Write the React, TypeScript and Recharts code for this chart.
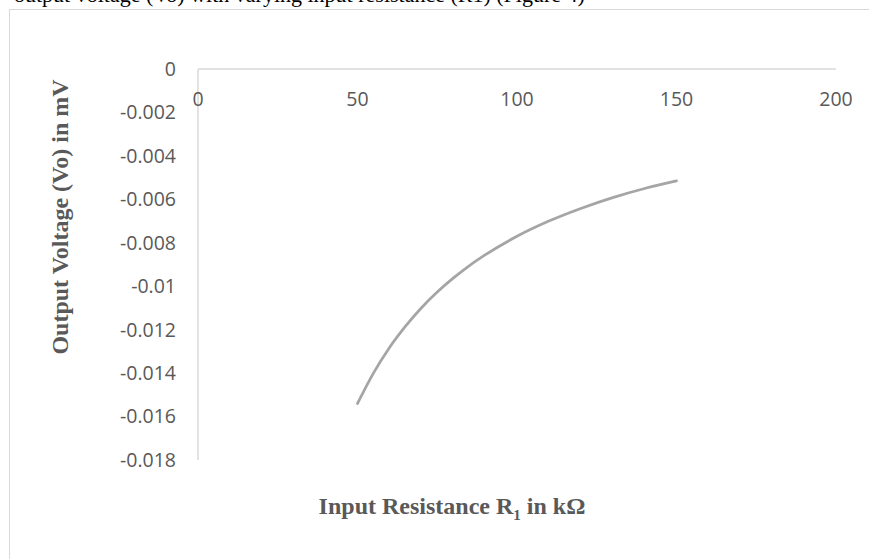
import { LineChart, Line, XAxis, YAxis } from "recharts";

const R_VALUES = [50, 55, 60, 65, 70, 75, 80, 85, 90, 100, 110, 120, 130, 140, 150];
const VO_VALUES = [-0.0154, -0.014, -0.01283, -0.01185, -0.011, -0.01027, -0.00963, -0.00906, -0.00856, -0.0077, -0.007, -0.00642, -0.00592, -0.0055, -0.00515];
const X_TICKS = [0, 50, 100, 150, 200];
const Y_TICKS = [0, -0.002, -0.004, -0.006, -0.008, -0.01, -0.012, -0.014, -0.016, -0.018];

const data = R_VALUES.map((r, i) => ({ r, vo: VO_VALUES[i] }));

const tickFont = { fontFamily: "'Open Sans', sans-serif", fontSize: 19.5, fill: "#595959" };
const titleFont = "'Liberation Serif', 'Times New Roman', serif";

// x labels sit under the axis line even though the axis is drawn at the top
function XTick(props: any) {
  return (
    <text x={props.x} y={106} textAnchor="middle" {...tickFont}>
      {props.payload.value}
    </text>
  );
}

export default function App() {
  return (
    <div style={{ position: "absolute", left: 0, top: 0, width: 869, height: 559, overflow: "hidden", background: "#fff" }}>
      {/* the clipped line of body text above the figure */}
      <svg width={869} height={20} style={{ position: "absolute", left: 0, top: 0 }}>
        <text x={14} y={1.5} fontFamily={titleFont} fontSize={22} fill="#000">
          output voltage (Vo) with varying input resistance (R1) (Figure 4)
        </text>
      </svg>

      {/* chart frame */}
      <div style={{ position: "absolute", left: 9, top: 9, width: 900, height: 600, border: "1px solid #d9d9d9", boxSizing: "border-box" }} />

      <LineChart
        width={869}
        height={559}
        data={data}
        margin={{ top: 39, right: 33, bottom: 99, left: 0 }}
        style={{ position: "absolute", left: 0, top: 0 }}
      >
        <XAxis
          type="number"
          dataKey="r"
          orientation="top"
          domain={[0, 200]}
          ticks={X_TICKS}
          height={30}
          tickLine={false}
          axisLine={{ stroke: "#d9d9d9", strokeWidth: 1.5 }}
          tick={<XTick />}
          interval={0}
        />
        <YAxis
          type="number"
          domain={[-0.018, 0]}
          ticks={Y_TICKS}
          width={198}
          tickLine={false}
          tickSize={0}
          tickMargin={22}
          axisLine={{ stroke: "#d9d9d9", strokeWidth: 1.5 }}
          tick={tickFont}
          tickFormatter={(v: number) => String(v)}
          interval={0}
        />
        <Line
          type="monotoneX"
          dataKey="vo"
          stroke="#a5a5a5"
          strokeWidth={2.75}
          strokeLinecap="round"
          dot={false}
          isAnimationActive={false}
        />
      </LineChart>

      {/* axis titles */}
      <div
        style={{
          position: "absolute",
          left: 60,
          top: 217,
          transform: "translate(-50%, -50%) rotate(-90deg)",
          whiteSpace: "nowrap",
          fontFamily: titleFont,
          fontWeight: "bold",
          fontSize: 24,
          color: "#595959",
        }}
      >
        Output Voltage (Vo) in mV
      </div>
      <div
        style={{
          position: "absolute",
          left: 452,
          top: 493,
          transform: "translateX(-50%)",
          whiteSpace: "nowrap",
          fontFamily: titleFont,
          fontWeight: "bold",
          fontSize: 24,
          color: "#595959",
          lineHeight: "27px",
        }}
      >
        Input Resistance R<sub style={{ fontSize: 15 }}>1</sub> in kΩ
      </div>
    </div>
  );
}
